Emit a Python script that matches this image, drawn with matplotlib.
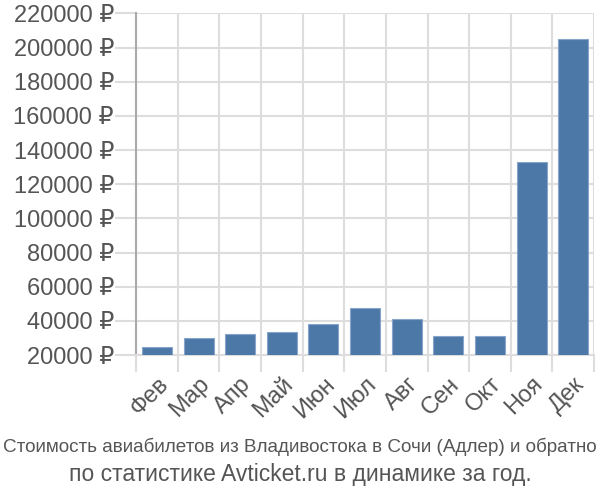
import matplotlib.pyplot as plt
import matplotlib.transforms as mtransforms
import numpy as np

plt.rcParams['font.family'] = ['Liberation Sans', 'DejaVu Sans']

months = ['Фев', 'Мар', 'Апр', 'Май', 'Июн', 'Июл', 'Авг', 'Сен', 'Окт', 'Ноя', 'Дек']
prices = [24800, 30000, 32100, 33500, 38200, 47600, 40900, 31400, 31400, 133300, 204900]
yticks = list(range(20000, 220001, 20000))
title1 = 'Стоимость авиабилетов из Владивостока в Сочи (Адлер) и обратно'
title2 = 'по статистике Avticket.ru в динамике за год.'

fig = plt.figure(figsize=(6, 5), dpi=100)
ax = fig.add_axes([0.227, 0.29, 0.763, 0.683])

x = np.arange(len(months))
ax.bar(x, prices, width=0.72, color='#4c78a8', edgecolor='#86a5c9', linewidth=0.8, zorder=3)

ax.set_xlim(-0.5, len(months) - 0.5)
ax.set_ylim(20000, 220000)
ax.set_yticks(yticks)
ax.set_yticklabels(['%d ₽' % v for v in yticks], fontsize=17, color='#555555')
ax.set_xticks(x)
ax.set_xticklabels(months, fontsize=17, color='#555555', rotation=45,
                   ha='right', rotation_mode='anchor')
ax.set_xticks(np.arange(len(months) + 1) - 0.5, minor=True)

# push rotated month labels a little to the right
shift = mtransforms.ScaledTranslation(6 / 100, 0, fig.dpi_scale_trans)
for lbl in ax.get_xticklabels():
    lbl.set_transform(lbl.get_transform() + shift)

ax.grid(True, axis='y', color='#dddddd', linewidth=1.5, zorder=0)
ax.grid(True, axis='x', which='minor', color='#dddddd', linewidth=1.5, zorder=0)
ax.tick_params(axis='x', which='major', length=0, pad=13)
ax.tick_params(axis='x', which='minor', length=12, color='#dddddd', width=1.5)
ax.tick_params(axis='y', length=15, color='#dddddd', width=1.5, pad=1)

for s in ['top', 'right']:
    ax.spines[s].set_visible(False)
ax.spines['left'].set_color('#aaaaaa')
ax.spines['left'].set_linewidth(1.5)
ax.spines['bottom'].set_color('#dddddd')
ax.spines['bottom'].set_linewidth(1.5)

fig.text(0.5, 1 - 447 / 500, title1, ha='center', va='center', fontsize=13.6,
         color='#555555')
fig.text(0.5, 1 - 475 / 500, title2, ha='center', va='center', fontsize=16.5,
         color='#555555')

fig.savefig('out.png', dpi=100)
